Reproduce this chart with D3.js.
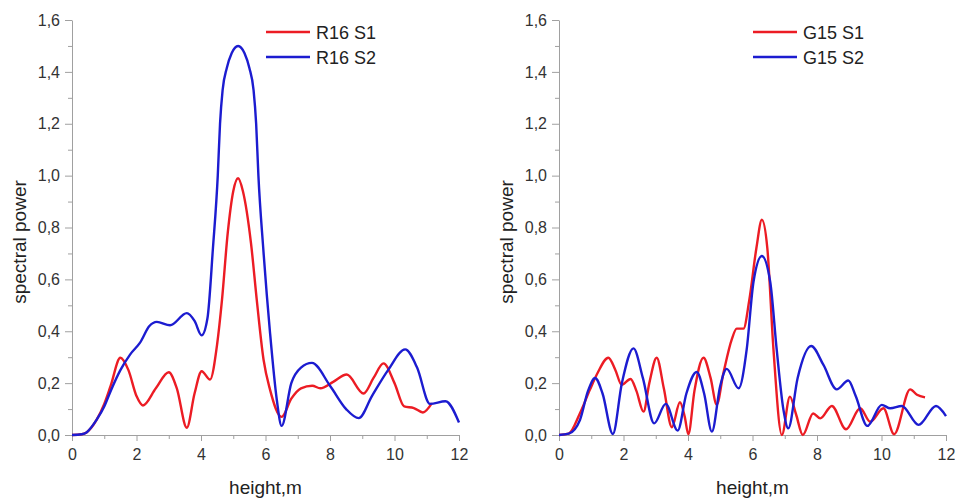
<!DOCTYPE html>
<html>
<head>
<meta charset="utf-8">
<script src="https://cdn.jsdelivr.net/npm/d3@7"></script>
<style>
  body { margin: 0; background: #fff; }
  svg { font-family: "Liberation Sans", Arial, sans-serif; }
  .axis path, .axis line { stroke: #a0a0a0; }
  .axis text { fill: #333; font-size: 16px; }
</style>
</head>
<body>
<div id="chart"></div>
<script>
// tick values and labels (comma as decimal separator)
const xTicks = [0, 2, 4, 6, 8, 10, 12];
const xMinorTicks = [1, 3, 5, 7, 9, 11];
const yTicks = [0, 0.2, 0.4, 0.6, 0.8, 1.0, 1.2, 1.4, 1.6];
const yTickLabels = ["0,0", "0,2", "0,4", "0,6", "0,8", "1,0", "1,2", "1,4", "1,6"];
const yMinorTicks = [0.1, 0.3, 0.5, 0.7, 0.9, 1.1, 1.3, 1.5];

// R16 S1 (left, red)
const r16s1X = [0, 0.3, 0.45, 0.77, 1.0, 1.2, 1.5, 1.75, 2.0, 2.2, 2.6, 3.0, 3.25, 3.56, 3.8, 4.02, 4.28, 4.5, 4.65, 4.83, 5.0, 5.15, 5.3, 5.55, 5.73, 5.94, 6.14, 6.5, 6.8, 7.1, 7.45, 7.7, 8.1, 8.52, 9.04, 9.35, 9.66, 10.0, 10.3, 10.6, 10.88, 11.16];
const r16s1Y = [0, 0.003, 0.01, 0.06, 0.12, 0.19, 0.298, 0.25, 0.15, 0.114, 0.18, 0.242, 0.18, 0.028, 0.16, 0.246, 0.214, 0.35, 0.52, 0.78, 0.94, 0.99, 0.94, 0.74, 0.52, 0.29, 0.175, 0.07, 0.14, 0.18, 0.19, 0.18, 0.205, 0.233, 0.16, 0.22, 0.276, 0.2, 0.11, 0.104, 0.087, 0.123];

// R16 S2 (left, blue)
const r16s2X = [0, 0.3, 0.45, 0.77, 1.0, 1.2, 1.5, 1.8, 2.11, 2.4, 2.63, 3.04, 3.56, 3.8, 4.02, 4.2, 4.37, 4.52, 4.59, 4.67, 4.8, 4.95, 5.15, 5.35, 5.5, 5.63, 5.71, 5.78, 5.93, 6.14, 6.35, 6.5, 6.8, 7.1, 7.44, 8.0, 8.5, 8.89, 9.3, 9.8, 10.33, 10.7, 11.1, 11.58, 12];
const r16s2Y = [0, 0.003, 0.01, 0.06, 0.11, 0.17, 0.25, 0.31, 0.356, 0.42, 0.436, 0.423, 0.47, 0.44, 0.384, 0.45, 0.72, 1.0, 1.2, 1.33, 1.415, 1.472, 1.5, 1.472, 1.415, 1.33, 1.2, 1.0, 0.72, 0.395, 0.136, 0.035, 0.2, 0.26, 0.278, 0.19, 0.1, 0.065, 0.15, 0.25, 0.33, 0.26, 0.12, 0.13, 0.048];

// G15 S1 (right, red)
const g15s1X = [0, 0.3, 0.65, 0.96, 1.2, 1.53, 1.75, 1.94, 2.22, 2.4, 2.62, 2.8, 3.03, 3.25, 3.5, 3.75, 3.9, 4.01, 4.2, 4.48, 4.7, 4.89, 5.1, 5.36, 5.51, 5.72, 5.9, 6.12, 6.29, 6.46, 6.65, 6.91, 7.16, 7.35, 7.56, 7.88, 8.1, 8.46, 8.9, 9.34, 9.65, 10.06, 10.39, 10.89, 11.1, 11.35];
const g15s1Y = [0, 0.005, 0.084, 0.175, 0.24, 0.298, 0.25, 0.194, 0.216, 0.17, 0.09, 0.2, 0.298, 0.18, 0.03, 0.126, 0.07, 0.003, 0.17, 0.298, 0.22, 0.117, 0.24, 0.37, 0.41, 0.41, 0.52, 0.72, 0.83, 0.72, 0.33, 0.0, 0.148, 0.08, 0.0, 0.083, 0.064, 0.112, 0.022, 0.103, 0.051, 0.103, 0.003, 0.176, 0.155, 0.145];

// G15 S2 (right, blue)
const g15s2X = [0, 0.3, 0.65, 0.9, 1.12, 1.35, 1.67, 1.95, 2.31, 2.6, 2.95, 3.31, 3.68, 3.95, 4.27, 4.5, 4.74, 5.0, 5.2, 5.57, 5.82, 6.03, 6.29, 6.55, 6.75, 6.96, 7.11, 7.4, 7.82, 8.2, 8.61, 8.97, 9.2, 9.56, 10.01, 10.27, 10.63, 11.15, 11.69, 12];
const g15s2Y = [0, 0.005, 0.058, 0.17, 0.22, 0.16, 0.004, 0.2, 0.334, 0.22, 0.045, 0.12, 0.017, 0.16, 0.243, 0.16, 0.013, 0.19, 0.255, 0.18, 0.33, 0.59, 0.69, 0.59, 0.33, 0.097, 0.026, 0.22, 0.343, 0.27, 0.176, 0.21, 0.15, 0.035, 0.116, 0.103, 0.112, 0.039, 0.112, 0.073];

const RED = "#ec1c24";
const BLUE = "#1c1cd0";

const width = 955, height = 500;
const svg = d3.select("#chart").append("svg")
    .attr("width", width)
    .attr("height", height);

function zip(xs, ys) {
    return xs.map((x, i) => ({x: x, y: ys[i]}));
}

function drawPanel(left, right, series, legendX) {
    const top = 20, bottom = 435;
    const x = d3.scaleLinear().domain([0, 12]).range([left, right]);
    const y = d3.scaleLinear().domain([0, 1.6]).range([bottom, top]);

    const g = svg.append("g");

    // minor ticks first, then the major axes over them
    g.append("g")
        .attr("class", "axis")
        .attr("transform", `translate(0,${bottom})`)
        .call(d3.axisBottom(x).tickValues(xMinorTicks).tickSize(4).tickFormat(""))
        .select(".domain").remove();
    g.append("g")
        .attr("class", "axis")
        .attr("transform", `translate(${left},0)`)
        .call(d3.axisLeft(y).tickValues(yMinorTicks).tickSize(4).tickFormat(""))
        .select(".domain").remove();

    g.append("g")
        .attr("class", "axis")
        .attr("transform", `translate(0,${bottom})`)
        .call(d3.axisBottom(x).tickValues(xTicks).tickSize(6).tickSizeOuter(0).tickPadding(8));
    g.append("g")
        .attr("class", "axis")
        .attr("transform", `translate(${left},0)`)
        .call(d3.axisLeft(y).tickValues(yTicks).tickSize(7).tickSizeOuter(0).tickPadding(5)
            .tickFormat((d, i) => yTickLabels[i]));

    g.append("text")
        .attr("x", (left + right) / 2)
        .attr("y", 494)
        .attr("text-anchor", "middle")
        .style("font-size", "19px")
        .style("fill", "#222")
        .text("height,m");

    g.append("text")
        .attr("transform", `translate(${left - 46},242) rotate(-90)`)
        .attr("text-anchor", "middle")
        .style("font-size", "19px")
        .style("fill", "#222")
        .text("spectral power");

    const line = d3.line()
        .x(d => x(d.x))
        .y(d => y(d.y))
        .curve(d3.curveMonotoneX);

    series.forEach((s, i) => {
        g.append("path")
            .datum(zip(s.xs, s.ys))
            .attr("d", line)
            .style("fill", "none")
            .style("stroke", s.color)
            .style("stroke-width", 2.4);

        const ly = 32 + i * 25;
        g.append("line")
            .attr("x1", legendX).attr("x2", legendX + 44)
            .attr("y1", ly).attr("y2", ly)
            .style("stroke", s.color)
            .style("stroke-width", 2.4);
        g.append("text")
            .attr("x", legendX + 50)
            .attr("y", ly + 7)
            .style("font-size", "18px")
            .style("fill", "#222")
            .text(s.name);
    });
}

drawPanel(72, 459, [
    {name: "R16 S1", xs: r16s1X, ys: r16s1Y, color: RED},
    {name: "R16 S2", xs: r16s2X, ys: r16s2Y, color: BLUE}
], 266);

drawPanel(559, 946, [
    {name: "G15 S1", xs: g15s1X, ys: g15s1Y, color: RED},
    {name: "G15 S2", xs: g15s2X, ys: g15s2Y, color: BLUE}
], 753);
</script>
</body>
</html>
